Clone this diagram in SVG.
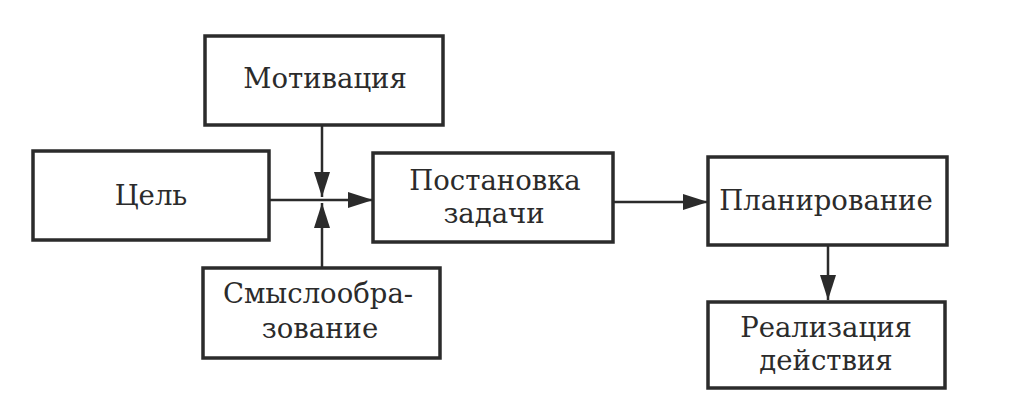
<svg xmlns="http://www.w3.org/2000/svg" width="1024" height="401" viewBox="0 0 1024 401">
<style>
.box{fill:#fff;stroke:#2b2b2b;stroke-width:3.5}
.t{font-family:'DejaVu Serif',serif;font-size:27.5px;fill:#2b2b2b;text-anchor:middle}
.ln{stroke:#2b2b2b;stroke-width:2.5;fill:none}
</style>
<defs>
<marker id="ah" viewBox="0 0 25 16" refX="25" refY="8" markerWidth="25" markerHeight="16" markerUnits="userSpaceOnUse" orient="auto">
<path d="M0,0 L25,8 L0,16 Z" fill="#2b2b2b"/>
</marker>
</defs>
<rect width="1024" height="401" fill="#fff"/>
<g id="connectors">
<line class="ln" x1="269" y1="200" x2="373" y2="200" marker-end="url(#ah)"/>
<line class="ln" x1="322" y1="125" x2="322" y2="197" marker-end="url(#ah)"/>
<line class="ln" x1="322" y1="267" x2="322" y2="203" marker-end="url(#ah)"/>
<line class="ln" x1="613" y1="202" x2="708" y2="202" marker-end="url(#ah)"/>
<line class="ln" x1="828" y1="245" x2="828" y2="300" marker-end="url(#ah)"/>
</g>
<g id="motivation">
<rect class="box" x="205" y="36" width="238" height="89"/>
<text class="t" x="325" y="88">Мотивация</text>
</g>
<g id="goal">
<rect class="box" x="33" y="151" width="236" height="89"/>
<text class="t" x="151" y="205">Цель</text>
</g>
<g id="meaning">
<rect class="box" x="203" y="268" width="237" height="90"/>
<text class="t" x="318" y="303">Смыслообра-</text>
<text class="t" x="320" y="338">зование</text>
</g>
<g id="task">
<rect class="box" x="373" y="153" width="240" height="89"/>
<text class="t" x="495" y="190">Постановка</text>
<text class="t" x="494" y="223">задачи</text>
</g>
<g id="planning">
<rect class="box" x="708" y="157" width="239" height="88"/>
<text class="t" x="826" y="210">Планирование</text>
</g>
<g id="realization">
<rect class="box" x="708" y="302" width="237" height="86"/>
<text class="t" x="826" y="337">Реализация</text>
<text class="t" x="826" y="370">действия</text>
</g>
</svg>
